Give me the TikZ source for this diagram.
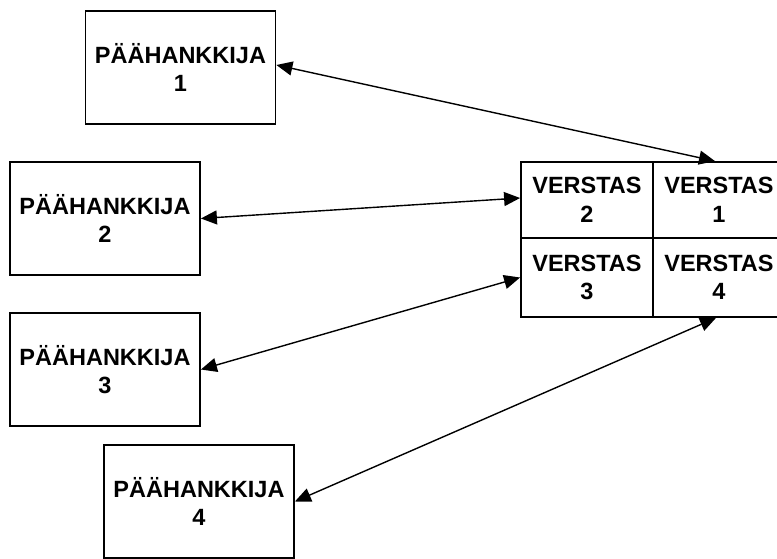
\documentclass[tikz,border=0pt]{standalone}
\usepackage{fontspec}
\setmainfont{Liberation Sans}
\usetikzlibrary{arrows.meta}
\begin{document}
\begin{tikzpicture}[x=1pt,y=-1pt,
  lbl/.style={font=\fontsize{23.5}{28.5}\selectfont\bfseries, align=center, inner sep=0pt},
  supplier/.style={lbl, draw, line width=1.8pt, minimum width=190pt, minimum height=113pt},
  shop/.style={lbl, draw, line width=1.8pt, minimum width=132pt},
  link/.style={line width=1.4pt, {Triangle[length=16pt,width=14pt]}-{Triangle[length=16pt,width=14pt]}}]
  \useasboundingbox (0,0) rectangle (777,559);
  \begin{scope}
  \clip (0,0) rectangle (777,559);
  % suppliers
  \node[supplier] (p1) at (180.5,67.5) {PÄÄHANKKIJA\\1};
  \node[supplier] (p2) at (105,218.5) {PÄÄHANKKIJA\\2};
  \node[supplier] (p3) at (105,369.5) {PÄÄHANKKIJA\\3};
  \node[supplier] (p4) at (199,501.5) {PÄÄHANKKIJA\\4};
  % workshop grid
  \node[shop, minimum height=76pt] (v2) at (587,200) {VERSTAS\\2};
  \node[shop, minimum height=76pt] (v1) at (719,200) {VERSTAS\\1};
  \node[shop, minimum height=79pt] (v3) at (587,277.5) {VERSTAS\\3};
  \node[shop, minimum height=79pt] (v4) at (719,277.5) {VERSTAS\\4};
  % connections
  \draw[link] ([yshift=2.5pt]p1.east) -- ([xshift=-4pt]v1.north);
  \draw[link] (p2.east) -- ([yshift=2pt]v2.west);
  \draw[link] (p3.east) -- (v3.west);
  \draw[link] (p4.east) -- ([xshift=-3pt]v4.south);
  \end{scope}
\end{tikzpicture}
\end{document}
